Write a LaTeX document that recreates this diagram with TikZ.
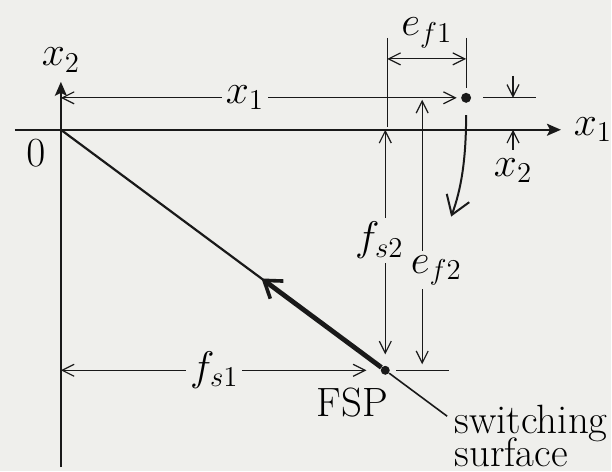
\documentclass[tikz,border=0pt]{standalone}
\usepackage{amsmath}
\usepackage{tikz}
\usetikzlibrary{arrows.meta,calc}
\usetikzlibrary{positioning}
\definecolor{paper}{RGB}{239,239,236}
\definecolor{ink}{RGB}{25,25,25}
\tikzset{lbl/.style={fill=paper,inner sep=2pt}}

\begin{document}
\begin{tikzpicture}[x=0.5pt,y=-0.5pt,line join=round,font={\fontsize{20.5}{16}\selectfont},
  axis/.style={draw=ink,line width=1pt,-{Stealth[length=7pt,width=6pt,inset=1.5pt]}},
  dim/.style={draw=ink,line width=0.6pt,{Straight Barb[length=6pt,width=6pt]}-{Straight Barb[length=6pt,width=6pt]}},
  dimone/.style={draw=ink,line width=0.6pt,-{Straight Barb[length=6pt,width=6pt]}},
  ext/.style={draw=ink,line width=0.6pt},
  dot/.style={circle,fill=ink,inner sep=0pt,minimum size=#1},
  surf/.style={draw=ink,line width=#1},
  traj/.style={draw=ink,line width=1pt,-{Straight Barb[length=9pt,width=12pt]}}]
\fill[paper] (0,0) rectangle (612,472);
% --- axes
\coordinate (O) at (61,130);
\draw[axis] (15,130) -- (562,130) node[right=6pt,inner sep=0pt] (x1lbl) {$x_1$};
\draw[axis] (61,468) -- (61,82) node[above=1pt] (x2lbl) {$x_2$};
\node (zero) at (36,153) {$0$};
% --- state point and FSP
\node[dot=5pt] (P) at (467,98) {};
\node[dot=4.5pt] (FSP) at (386,371) {};
\node[anchor=base east,inner sep=0pt] (fsplbl) at (389,417) {FSP};
% --- switching surface
\coordinate (send) at (448,417);
\coordinate (T) at (262,279);
\draw[surf=1.1pt] (O) -- (FSP);
\draw[surf=0.8pt] (FSP) -- (send);
\draw[surf=2.4pt,-{Straight Barb[length=8pt,width=11pt,line width=1.8pt]}] (FSP) -- (T);
\node[anchor=base west,inner sep=0pt] (sw1) at (455,434) {switching};
\node[anchor=base west,inner sep=0pt] (sw2) at (455,467) {surface};
% --- x1 and x2 of the state
\coordinate (a1) at (61,98);
\draw[dim,shorten >=2pt] (a1) -- (P.west) node[lbl,pos=.46] {$x_1$};
\coordinate (x2r) at (537,98);
\draw[ext] ([xshift=6pt]P.east) -- (x2r);
\coordinate (x2a) at (514,76); \coordinate (x2b) at (514,98);
\coordinate (x2c) at (514,150); \coordinate (x2d) at (514,130);
\draw[dimone] (x2a) -- (x2b);
\draw[dimone] (x2c) -- (x2d);
\node[below=1pt] (x2dl) at (x2c) {$x_2$};
% --- e_f1
\coordinate (f1a) at (388,38); \coordinate (f1b) at (388,127);
\coordinate (f1c) at (467,38);
\coordinate (f1l) at (388,59); \coordinate (f1r) at (467,59);
\draw[ext] (f1a) -- (f1b);
\draw[ext] (f1c) -- ([yshift=2pt]P.north);
\draw[dim] (f1l) -- (f1r) node[midway,above=2pt] {$e_{f1}$};
% --- f_s2 and e_f2
\coordinate (s2t) at (FSP |- O);
\draw[dim,shorten >=5.5pt] (s2t) -- (FSP.north) node[lbl,pos=.47,xshift=-3pt] {$f_{s2}$};
\coordinate (e2t) at (423,100); \coordinate (e2b) at (423,371);
\coordinate (e2x) at (450,371);
\draw[ext] ([xshift=3pt]FSP.east) -- (e2x);
\draw[dim,shorten >=3pt] (e2t) -- (e2b) node[lbl,pos=.63,xshift=7pt] {$e_{f2}$};
% --- f_s1
\coordinate (s1l) at (61,371);
\draw[dim,shorten >=7pt] (s1l) -- (FSP.west) node[lbl,pos=.48] {$f_{s1}$};
% --- trajectory
\coordinate (tend) at (452,217);
\draw[traj] ([yshift=-6pt]P.south) .. controls (467,160) and (462,190) .. (tend);
\end{tikzpicture}
\end{document}
